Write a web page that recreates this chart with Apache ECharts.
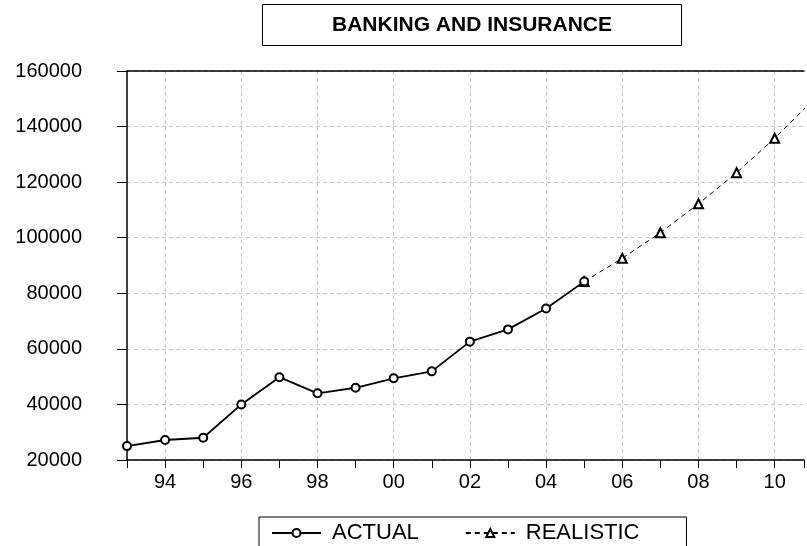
<!DOCTYPE html>
<html>
<head>
<meta charset="utf-8">
<script src="https://cdn.jsdelivr.net/npm/echarts@6/dist/echarts.min.js"></script>
<style>html,body{margin:0;padding:0;background:#fff;}#c{width:807px;height:546px;}</style>
</head>
<body>
<div id="c"></div>
<script>
var actualYears = [1993,1994,1995,1996,1997,1998,1999,2000,2001,2002,2003,2004,2005];
var actualValues = [25000,27200,28000,40000,49800,44000,46000,49400,51900,62600,67000,74500,84200];
var realisticYears = [2005,2006,2007,2008,2009,2010,2011];
var realisticValues = [84200,92600,101800,112200,123400,135800,149400];
var yTicks = [20000,40000,60000,80000,100000,120000,140000,160000];

var FONT = 'Liberation Sans, Arial, sans-serif';
function pairs(xs, ys){ return xs.map(function(x,i){ return [x, ys[i]]; }); }

var chart = echarts.init(document.getElementById('c'), null, {renderer:'canvas'});
chart.setOption({
  animation: false,
  backgroundColor: '#fff',
  title: {
    text: 'BANKING AND INSURANCE',
    left: 262, top: 4,
    padding: [11, 70, 10, 70],
    borderColor: '#000', borderWidth: 1,
    textStyle: {fontFamily: FONT, fontWeight: 'bold', fontSize: 21, color: '#000'}
  },
  legend: {
    left: 259, top: 517,
    padding: [5, 47, 20, 12],
    borderColor: '#000', borderWidth: 1,
    itemWidth: 49, itemHeight: 10, itemGap: 46,
    textStyle: {fontFamily: FONT, fontSize: 22, color: '#000', padding: [0,0,0,6]},
    data: ['ACTUAL', 'REALISTIC']
  },
  grid: {left: 127, right: 0, top: 71, bottom: 86, containLabel: false},
  xAxis: [{
    type: 'value', min: 1993, max: 2010.77, interval: 1,
    axisLine: {show: true, onZero: false, lineStyle: {color: '#000', width: 1.5}},
    axisTick: {show: true, length: 8, lineStyle: {color: '#000'}},
    axisLabel: {
      margin: 12, fontFamily: FONT, fontSize: 20, color: '#000',
      showMinLabel: true, showMaxLabel: true,
      formatter: function(v){
        if (Math.abs(v - Math.round(v)) > 1e-6) return '';
        v = Math.round(v);
        if (v % 2 !== 0) return '';
        var s = String(v % 100); return s.length < 2 ? '0' + s : s;
      }
    },
    splitLine: {show: true, lineStyle: {color: ['rgba(0,0,0,0)', '#c8c8c8'], type: [4,3], width: 1}}
  }, {
    type: 'value', position: 'top', min: 1993, max: 2010.77,
    axisLine: {show: true, lineStyle: {color: '#000', width: 1.5}},
    axisTick: {show: false}, axisLabel: {show: false}, splitLine: {show: false}
  }],
  yAxis: {
    type: 'value', min: 20000, max: 160000, interval: 20000,
    axisLine: {show: true, lineStyle: {color: '#000', width: 1.5}},
    axisTick: {show: true, length: 10, lineStyle: {color: '#000'}},
    axisLabel: {
      margin: 45, fontFamily: FONT, fontSize: 20, color: '#000',
      formatter: function(v){ return yTicks.indexOf(v) >= 0 ? String(v) : ''; }
    },
    splitLine: {show: true, lineStyle: {color: '#c8c8c8', type: [4,3], width: 1}}
  },
  series: [{
    name: 'ACTUAL', type: 'line', xAxisIndex: 0,
    data: pairs(actualYears, actualValues),
    symbol: 'emptyCircle', symbolSize: 8,
    lineStyle: {color: '#000', width: 1.8},
    itemStyle: {color: '#000', borderColor: '#000', borderWidth: 1.5},
    z: 3
  }, {
    name: 'REALISTIC', type: 'line', xAxisIndex: 0,
    data: pairs(realisticYears, realisticValues),
    symbol: 'emptyTriangle', symbolSize: 9,
    lineStyle: {color: '#000', width: 1, type: [5,4]},
    itemStyle: {color: '#000', borderColor: '#000', borderWidth: 1},
    clip: true, z: 2
  }]
});
</script>
</body>
</html>
